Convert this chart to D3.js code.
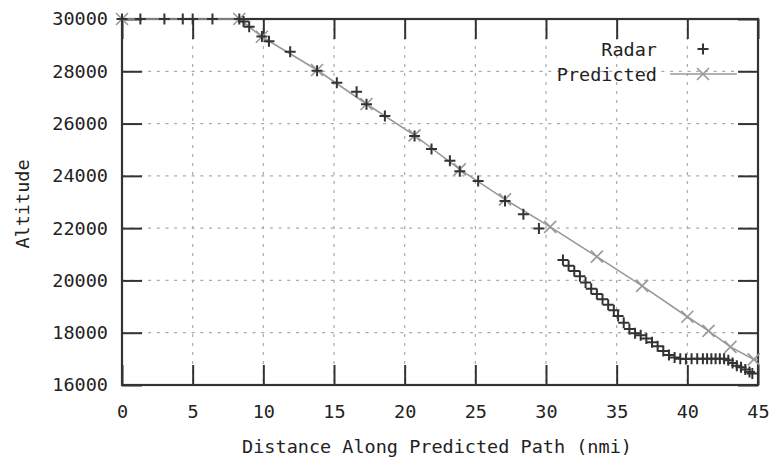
<!DOCTYPE html>
<html>
<head>
<meta charset="utf-8">
<script src="https://cdn.jsdelivr.net/npm/d3@7"></script>
<style>
  body { margin: 0; background: #fff; }
  text { font-family: "DejaVu Sans Mono", monospace; fill: #222; }
</style>
</head>
<body>
<div id="chart"></div>
<script>
// Data
const radarDist = [0, 1.3, 3.0, 4.3, 5.0, 6.4, 8.3, 8.6, 9.0, 9.9, 10.4, 11.9, 13.8, 15.2, 16.6, 17.3, 18.6,
    20.7, 21.9, 23.2, 23.9, 25.2, 27.1, 28.4, 29.5,
    31.2, 31.6, 32.0, 32.4, 32.8, 33.2, 33.6, 34.0, 34.4, 34.8, 35.1, 35.5, 35.9, 36.3, 36.7, 37.1, 37.5, 37.9,
    38.3, 38.7, 39.1, 39.5, 39.9, 40.3, 40.7, 41.1, 41.4, 41.7, 42.0, 42.3, 42.6, 42.9, 43.2, 43.5, 43.8, 44.1, 44.4, 44.6];
const radarAlt = [30000, 30000, 30000, 30000, 30000, 30000, 30000, 29900, 29700, 29330, 29150, 28750, 28020, 27560, 27220, 26740, 26290,
    25520, 25030, 24580, 24180, 23800, 23040, 22530, 21990,
    20780, 20560, 20360, 20160, 19920, 19680, 19480, 19280, 19070, 18860, 18640, 18380, 18140, 17980, 17900, 17780, 17640, 17480,
    17300, 17150, 17050, 17000, 16990, 17000, 17000, 17000, 17000, 17000, 17000, 17000, 17000, 16950, 16840, 16740, 16680, 16590, 16500, 16440];

const predDist = [0, 8.3, 9.9, 13.8, 17.3, 20.7, 23.9, 27.1, 30.3, 33.6, 36.8, 40.0, 41.5, 43.05, 44.7, 45];
const predAlt = [30000, 30000, 29320, 28050, 26750, 25550, 24250, 23100, 22050, 20910, 19790, 18610, 18070, 17460, 16980, 16960];
const predMarked = [0, 8.3, 9.9, 13.8, 17.3, 20.7, 23.9, 27.1, 30.3, 33.6, 36.8, 40.0, 41.5, 43.05, 44.7];

const xTicks = [0, 5, 10, 15, 20, 25, 30, 35, 40, 45];
const yTicks = [16000, 18000, 20000, 22000, 24000, 26000, 28000, 30000];
const seriesNames = ["Radar", "Predicted"];

const radar = radarDist.map((d, i) => ({ dist: d, alt: radarAlt[i] }));
const predicted = predDist.map((d, i) => ({ dist: d, alt: predAlt[i] }));

const margins = { top: 19, right: 24, bottom: 72, left: 122 };
const width = 782 - margins.left - margins.right;
const height = 457 - margins.top - margins.bottom;

const svg = d3.select("#chart")
    .append("svg")
    .attr("width", 782)
    .attr("height", 457)
    .append("g")
    .attr("transform", `translate(${margins.left},${margins.top})`);

const xScale = d3.scaleLinear().domain([0, 45]).range([0, width]);
const yScale = d3.scaleLinear().domain([16000, 30000]).range([height, 0]);

const axisColor = "#333";
const gridColor = "#aaa";

// grid
svg.append("g").selectAll("line")
    .data(yTicks.slice(1, -1))
    .join("line")
    .attr("x1", 0).attr("x2", width)
    .attr("y1", d => yScale(d)).attr("y2", d => yScale(d))
    .attr("stroke", gridColor).attr("stroke-width", 1.2)
    .attr("stroke-dasharray", "3,5.7");

svg.append("g").selectAll("line")
    .data(xTicks.slice(1, -1))
    .join("line")
    .attr("x1", d => xScale(d)).attr("x2", d => xScale(d))
    .attr("y1", 0).attr("y2", height)
    .attr("stroke", gridColor).attr("stroke-width", 1.2)
    .attr("stroke-dasharray", "3,6");

// axes with inward ticks on all sides
function styleAxis(g) {
    g.select(".domain").remove();
    g.selectAll(".tick line").attr("stroke", axisColor).attr("stroke-width", 2);
    g.selectAll(".tick text")
        .attr("fill", "#222")
        .style("font-family", "DejaVu Sans Mono, monospace")
        .style("font-size", "18.5px");
}

svg.append("g")
    .attr("transform", `translate(0,${height})`)
    .call(d3.axisBottom(xScale).tickValues(xTicks).tickSize(-20).tickPadding(20).tickFormat(d3.format("d")))
    .call(styleAxis);

svg.append("g")
    .call(d3.axisTop(xScale).tickValues(xTicks).tickSize(-20).tickFormat(""))
    .call(styleAxis);

svg.append("g")
    .call(d3.axisLeft(yScale).tickValues(yTicks).tickSize(-20).tickPadding(14).tickFormat(d3.format("d")))
    .call(styleAxis);

svg.append("g")
    .attr("transform", `translate(${width},0)`)
    .call(d3.axisRight(yScale).tickValues(yTicks).tickSize(-20).tickFormat(""))
    .call(styleAxis);

// frame
svg.append("rect")
    .attr("width", width).attr("height", height)
    .attr("fill", "none").attr("stroke", axisColor).attr("stroke-width", 2.2);

// axis titles
svg.append("text")
    .attr("x", width / 2 - 3)
    .attr("y", height + 68)
    .attr("text-anchor", "middle")
    .style("font-size", "18.5px")
    .text("Distance Along Predicted Path (nmi)");

svg.append("text")
    .attr("transform", `translate(${22 - margins.left},${height / 2 + 2}) rotate(-90)`)
    .attr("text-anchor", "middle")
    .attr("dominant-baseline", "central")
    .style("font-size", "18.5px")
    .text("Altitude");

// predicted line
const line = d3.line()
    .x(d => xScale(d.dist))
    .y(d => yScale(d.alt));

const predColor = "#999";
const radarColor = "#333";

svg.append("path")
    .datum(predicted)
    .attr("fill", "none")
    .attr("stroke", predColor)
    .attr("stroke-width", 1.6)
    .attr("d", line);

const crossSize = 6;
function drawX(g, cx, cy) {
    g.append("path")
        .attr("d", `M${cx - crossSize},${cy - crossSize}L${cx + crossSize},${cy + crossSize}M${cx - crossSize},${cy + crossSize}L${cx + crossSize},${cy - crossSize}`)
        .attr("stroke", predColor)
        .attr("stroke-width", 1.6)
        .attr("fill", "none");
}

const plusSize = 5.5;
function drawPlus(g, cx, cy) {
    g.append("path")
        .attr("d", `M${cx - plusSize},${cy}L${cx + plusSize},${cy}M${cx},${cy - plusSize}L${cx},${cy + plusSize}`)
        .attr("stroke", radarColor)
        .attr("stroke-width", 2)
        .attr("fill", "none");
}

const predG = svg.append("g");
predicted.filter(d => predMarked.includes(d.dist))
    .forEach(d => drawX(predG, xScale(d.dist), yScale(d.alt)));

const radarG = svg.append("g");
radar.forEach(d => drawPlus(radarG, xScale(d.dist), yScale(d.alt)));

// legend
const legend = svg.append("g");
const legendTextX = 657 - margins.left;
const legendMarkX = 703 - margins.left;
const legendRows = [49 - margins.top, 74 - margins.top];

seriesNames.forEach((name, i) => {
    legend.append("text")
        .attr("x", legendTextX)
        .attr("y", legendRows[i])
        .attr("text-anchor", "end")
        .attr("dominant-baseline", "central")
        .style("font-size", "18.5px")
        .text(name);
});

drawPlus(legend, legendMarkX, legendRows[0]);
legend.append("line")
    .attr("x1", 670 - margins.left).attr("x2", 737 - margins.left)
    .attr("y1", legendRows[1]).attr("y2", legendRows[1])
    .attr("stroke", predColor).attr("stroke-width", 1.6);
drawX(legend, legendMarkX, legendRows[1]);
</script>
</body>
</html>
